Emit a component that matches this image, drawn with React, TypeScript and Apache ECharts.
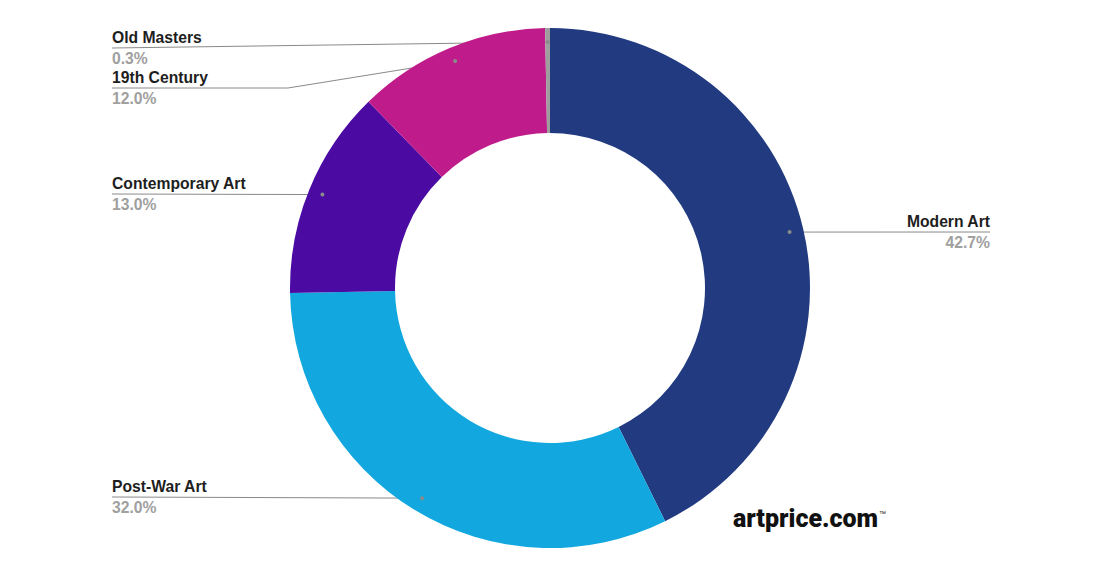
import React, { useEffect, useRef } from "react";
import * as echarts from "echarts";

const categories = ["Modern Art", "Post-War Art", "Contemporary Art", "19th Century", "Old Masters"];
const shares = [42.7, 32.0, 13.0, 12.0, 0.3];
const sliceColors = ["#213a80", "#12a8df", "#4b0ba3", "#c01b8a", "#9e9e9e"];

// label anchor layout: x of line end, y of line, alignment, optional elbow x
const labelX = [990, 112, 112, 112, 112];
const labelY = [232, 497, 194, 88, 48];
const labelAlign = ["right", "left", "left", "left", "left"];
const elbowX = [null, null, null, 288, null];

const CX = 550;
const CY = 288;
const R_IN = 155;
const R_OUT = 260;
const R_DOT = 246;

function dotPositions() {
  const total = shares.reduce((a, b) => a + b, 0);
  let acc = 0;
  return shares.map((v) => {
    const mid = acc + v / 2;
    acc += v;
    const ang = (mid / total) * Math.PI * 2; // clockwise from top
    return [CX + R_DOT * Math.sin(ang), CY - R_DOT * Math.cos(ang)];
  });
}

export default function App() {
  const ref = useRef<HTMLDivElement>(null);
  useEffect(() => {
    if (!ref.current) return;
    const chart = echarts.init(ref.current, null, { renderer: "svg" });
    const dots = dotPositions();
    chart.setOption({
      animation: false,
      backgroundColor: "#ffffff",
      series: [
        {
          type: "pie",
          center: [CX, CY],
          radius: [R_IN, R_OUT],
          startAngle: 90,
          clockwise: true,
          avoidLabelOverlap: false,
          data: categories.map((n, i) => ({
            name: n,
            value: shares[i],
            itemStyle: { color: sliceColors[i] },
          })),
          itemStyle: { borderWidth: 0 },
          label: {
            show: true,
            formatter: (p: any) => `{n|${p.name}}\n{p|${shares[p.dataIndex].toFixed(1)}%}`,
            rich: {
              n: { fontFamily: "Liberation Sans", fontWeight: "bold", fontSize: 15.7, color: "#1e1e1e", lineHeight: 21 },
              p: { fontFamily: "Liberation Sans", fontWeight: "bold", fontSize: 15.7, color: "#a0a0a0", lineHeight: 21 },
            },
          },
          labelLine: { show: true, lineStyle: { color: "#8a8a8a", width: 1 } },
          labelLayout: (params: any) => {
            const i = params.dataIndex;
            const d = dots[i];
            const ex = labelX[i];
            const ey = labelY[i];
            const mid = elbowX[i] != null ? [elbowX[i], ey] : [(d[0] + ex) / 2, (d[1] + ey) / 2];
            return {
              x: ex,
              y: ey,
              align: labelAlign[i],
              verticalAlign: "middle",
              labelLinePoints: [d, mid, [ex, ey]],
            };
          },
          emphasis: { disabled: true },
        },
      ],
      graphic: [
        ...dots.map((d) => ({
          type: "circle",
          shape: { cx: d[0], cy: d[1], r: 2 },
          style: { fill: "#8a8a8a" },
          z: 100,
        })),
        {
          type: "text",
          x: 733,
          y: 518,
          style: {
            text: "artprice.com",
            fontFamily: "Roboto",
            fontWeight: 900,
            fontSize: 25,
            fill: "#111111",
            align: "left",
            verticalAlign: "middle",
          },
        },
        {
          type: "text",
          x: 879,
          y: 513,
          style: { text: "™", fontFamily: "Liberation Sans", fontSize: 7, fill: "#111111", verticalAlign: "middle" },
        },
      ],
    });
    return () => chart.dispose();
  }, []);
  return (
    <div
      ref={ref}
      style={{ position: "fixed", left: 0, top: 0, width: 1100, height: 576, background: "#fff" }}
    />
  );
}
